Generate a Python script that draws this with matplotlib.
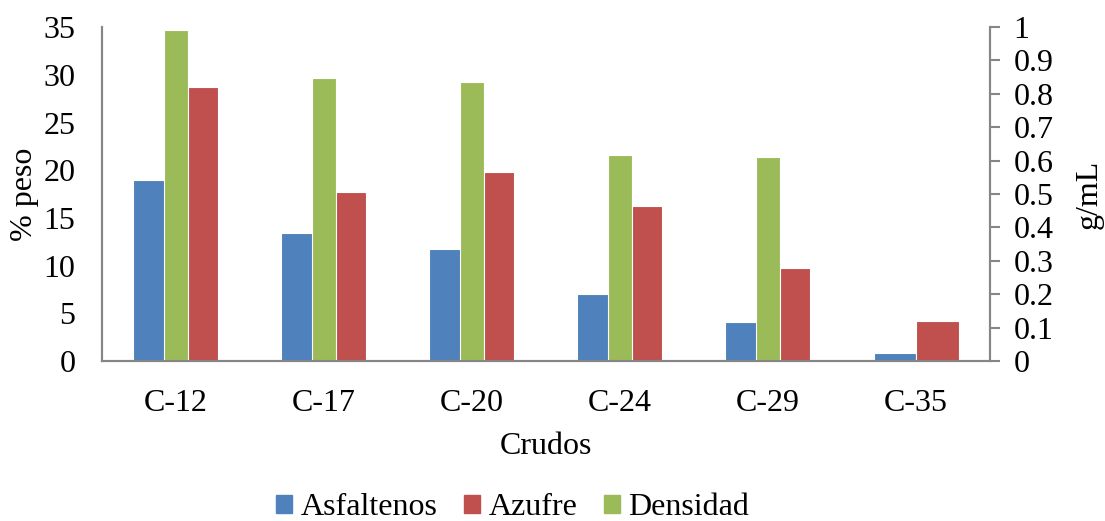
import numpy as np
import matplotlib
matplotlib.use("Agg")
import matplotlib.pyplot as plt
from matplotlib.patches import Patch

plt.rcParams['font.family'] = ['Liberation Serif', 'DejaVu Serif']

# datos por crudo
crudos = ['C-12', 'C-17', 'C-20', 'C-24', 'C-29', 'C-35']
asfaltenos = [19.0, 13.4, 11.7, 7.0, 4.1, 0.8]    # % peso
azufre = [28.7, 17.7, 19.8, 16.3, 9.8, 4.2]       # % peso
densidad = [0.99, 0.847, 0.837, 0.618, 0.61, 0]   # g/mL

c_azul = '#4F81BD'
c_rojo = '#C0504D'
c_verde = '#9BBB59'
c_eje = '#868686'

fig = plt.figure(figsize=(11.05, 5.21), dpi=100)
ax = fig.add_axes([0.092, 0.307, 0.804, 0.641])
ax2 = ax.twinx()

x = np.arange(len(crudos))
w = 0.287
ax.bar(x - w / 2, asfaltenos, w, color=c_azul, edgecolor='white', linewidth=0.8)
ax.bar(x + w / 2, azufre, w, color=c_rojo, edgecolor='white', linewidth=0.8)
# la densidad va en el eje secundario, encima de las otras barras
ax2.bar(x, densidad, 0.164, color=c_verde, edgecolor='white', linewidth=0.8)

ax.set_xlim(-0.5, len(crudos) - 0.5)
ax.set_ylim(0, 35)
ax.set_yticks(range(0, 36, 5))
ax2.set_ylim(0, 1)
ax2.set_yticks(np.arange(0, 1.01, 0.1))
ax2.set_yticklabels(['{:g}'.format(round(v, 1)) for v in np.arange(0, 1.01, 0.1)])

ax.set_xticks(x)
ax.set_xticklabels(crudos)

for a in (ax, ax2):
    a.spines['top'].set_visible(False)
    for s in ('left', 'right', 'bottom'):
        a.spines[s].set_color(c_eje)
        a.spines[s].set_linewidth(1.5)

ax.tick_params(axis='y', length=0, pad=19, labelsize=23)
ax.tick_params(axis='x', length=0, pad=20, labelsize=23)
ax2.tick_params(axis='y', length=7, width=1.5, color=c_eje, pad=10, labelsize=23)

ax.set_ylabel('% peso', fontsize=23, labelpad=3)
ax2.set_ylabel('g/mL', fontsize=23, labelpad=15)
ax.set_xlabel('Crudos', fontsize=23, labelpad=10)

handles = [Patch(color=c_azul, label='Asfaltenos'),
           Patch(color=c_rojo, label='Azufre'),
           Patch(color=c_verde, label='Densidad')]
fig.legend(handles=handles, loc='lower center', bbox_to_anchor=(0.464, -0.033),
           ncol=3, frameon=False, fontsize=23, handlelength=0.5, handleheight=0.5,
           handletextpad=0.25, columnspacing=0.85, borderpad=0)

fig.savefig('out.png', dpi=100)
